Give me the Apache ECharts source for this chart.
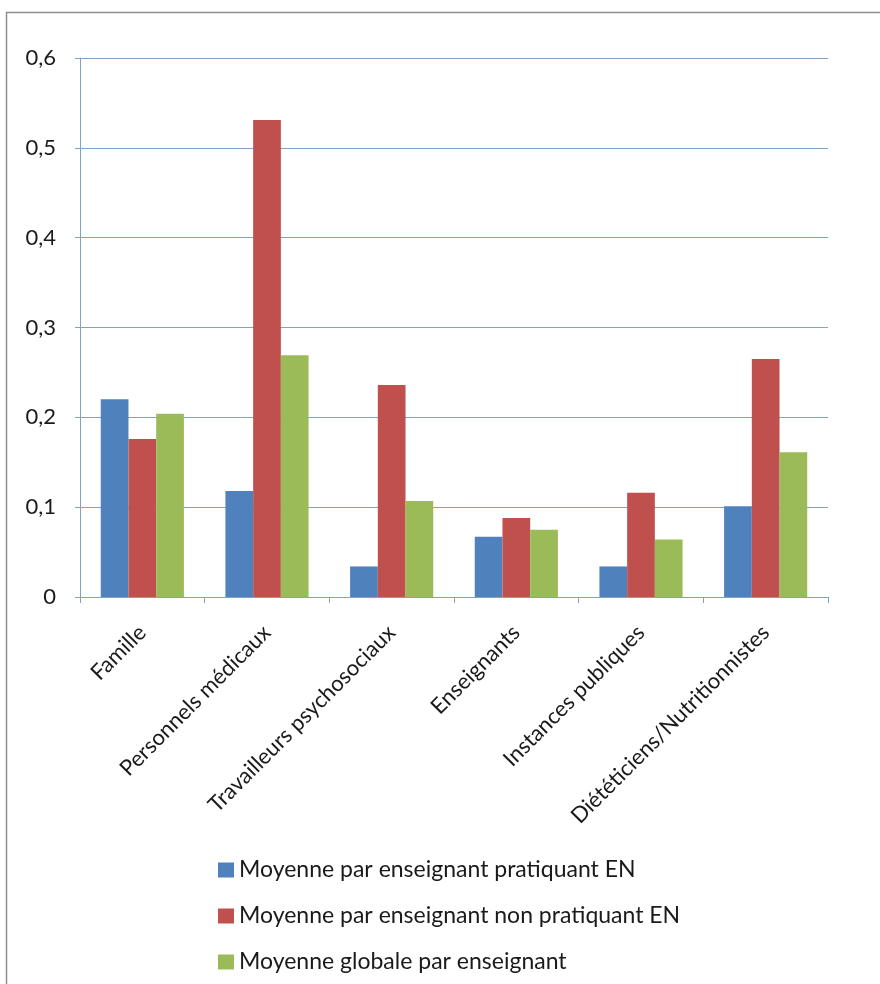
<!DOCTYPE html>
<html>
<head>
<meta charset="utf-8">
<script src="https://cdn.jsdelivr.net/npm/echarts@6/dist/echarts.min.js"></script>
<style>
html, body { margin: 0; padding: 0; background: #fff; }
#chart { width: 880px; height: 984px; }
</style>
</head>
<body>
<div id="chart"></div>
<script>
// categories (x axis)
var categories = ['Famille', 'Personnels médicaux', 'Travailleurs psychosociaux', 'Enseignants', 'Instances publiques', 'Diététiciens/Nutritionnistes'];
// series values
var pratiquant = [0.220, 0.118, 0.034, 0.067, 0.034, 0.101];
var nonPratiquant = [0.176, 0.531, 0.236, 0.088, 0.116, 0.265];
var globale = [0.204, 0.269, 0.107, 0.075, 0.064, 0.161];
var seriesNames = ['Moyenne par enseignant pratiquant EN', 'Moyenne par enseignant non pratiquant EN', 'Moyenne globale par enseignant'];
var seriesColors = ['#4F81BD', '#C0504D', '#9BBB59'];

var font = 'Lato, "Open Sans", sans-serif';
var lineColor = '#7FA3C4';

var chart = echarts.init(document.getElementById('chart'));
var option = {
    backgroundColor : '#fff',
    animation : false,
    graphic : [ {
        type : 'rect',
        shape : { x : 6.5, y : 12.5, width : 900, height : 1000 },
        style : { fill : 'none', stroke : '#8E8E8E', lineWidth : 1.5 }
    } ],
    grid : {
        left : 80,
        top : 58,
        right : 52,
        bottom : 387
    },
    legend : {
        orient : 'vertical',
        left : 213,
        top : 853,
        itemWidth : 16,
        itemHeight : 15,
        itemGap : 22,
        icon : 'rect',
        data : seriesNames,
        textStyle : {
            fontFamily : font,
            fontSize : 23,
            color : '#1a1a1a',
            lineHeight : 24
        }
    },
    xAxis : {
        type : 'category',
        data : categories,
        axisLine : { lineStyle : { color : lineColor, width : 1 } },
        axisTick : { show : true, length : 6, lineStyle : { color : lineColor } },
        axisLabel : {
            rotate : 45,
            margin : 32,
            fontFamily : font,
            fontSize : 22,
            color : '#1a1a1a',
            interval : 0
        }
    },
    yAxis : {
        type : 'value',
        min : 0,
        max : 0.6,
        interval : 0.1,
        axisLine : { show : true, lineStyle : { color : lineColor, width : 1 } },
        axisTick : { show : true, length : 5, lineStyle : { color : lineColor } },
        splitLine : { lineStyle : { color : lineColor, width : 1.2 } },
        axisLabel : {
            margin : 24,
            fontFamily : font,
            fontSize : 22,
            color : '#1a1a1a',
            formatter : function(v) {
                return String(Math.round(v * 10) / 10).replace('.', ',');
            }
        }
    },
    series : [ {
        name : seriesNames[0],
        type : 'bar',
        barGap : '0%',
        barCategoryGap : '33.3%',
        itemStyle : { color : seriesColors[0] },
        data : pratiquant
    }, {
        name : seriesNames[1],
        type : 'bar',
        barGap : '0%',
        barCategoryGap : '33.3%',
        itemStyle : { color : seriesColors[1] },
        data : nonPratiquant
    }, {
        name : seriesNames[2],
        type : 'bar',
        barGap : '0%',
        barCategoryGap : '33.3%',
        itemStyle : { color : seriesColors[2] },
        data : globale
    } ]
};
chart.setOption(option);
</script>
</body>
</html>
